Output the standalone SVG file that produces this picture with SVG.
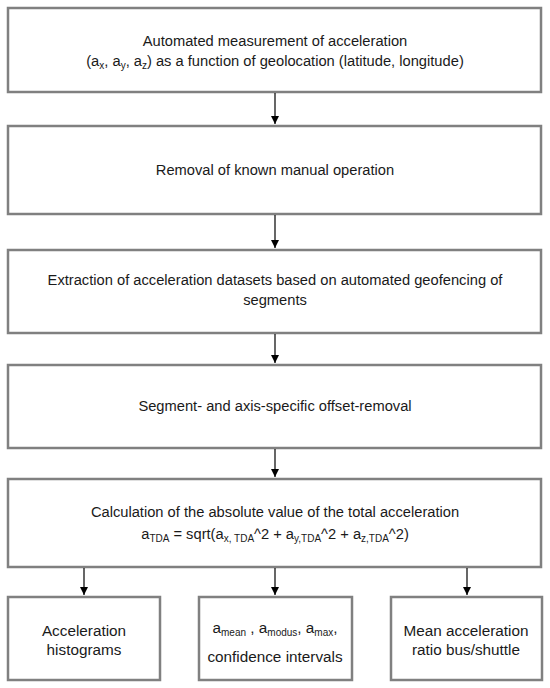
<svg xmlns="http://www.w3.org/2000/svg" width="550" height="688" viewBox="0 0 550 688">
<defs>
<marker id="ah" markerWidth="8" markerHeight="8" refX="8" refY="4" orient="auto" markerUnits="userSpaceOnUse" viewBox="0 0 8 8">
<path d="M0,0 L8,4 L0,8 Z" fill="#000"/>
</marker>
<style>
.box{fill:#fff;stroke:#808080;stroke-width:2.5}
.t{font-family:"Liberation Sans",Arial,sans-serif;font-size:14.7px;fill:#1a1a1a;text-anchor:middle}
.b{font-size:15.3px}
.s{font-size:10px}
.c{stroke:#000;stroke-width:1.2;fill:none}
</style>
</defs>
<rect width="550" height="688" fill="#fff"/>
<g id="n1"><rect class="box" x="8" y="8" width="533" height="84"/>
<text class="t" x="275" y="46">Automated measurement of acceleration</text>
<text class="t" x="275" y="66">(a<tspan class="s" dy="3">x</tspan><tspan dy="-3">, a</tspan><tspan class="s" dy="3">y</tspan><tspan dy="-3">, a</tspan><tspan class="s" dy="3">z</tspan><tspan dy="-3">) as a function of geolocation (latitude, longitude)</tspan></text></g>
<g id="n2"><rect class="box" x="8" y="126" width="533" height="88"/>
<text class="t" x="275" y="175">Removal of known manual operation</text></g>
<g id="n3"><rect class="box" x="8" y="250" width="533" height="83"/>
<text class="t" x="275" y="285">Extraction of acceleration datasets based on automated geofencing of</text>
<text class="t" x="275" y="305">segments</text></g>
<g id="n4"><rect class="box" x="8" y="365" width="533" height="83"/>
<text class="t" x="275" y="411">Segment- and axis-specific offset-removal</text></g>
<g id="n5"><rect class="box" x="8" y="479" width="533" height="88"/>
<text class="t" x="275" y="517">Calculation of the absolute value of the total acceleration</text>
<text class="t" x="275" y="539">a<tspan class="s" dy="3">TDA</tspan><tspan dy="-3"> = sqrt(a</tspan><tspan class="s" dy="3">x, TDA</tspan><tspan dy="-3">^2 + a</tspan><tspan class="s" dy="3">y,TDA</tspan><tspan dy="-3">^2 + a</tspan><tspan class="s" dy="3">z,TDA</tspan><tspan dy="-3">^2)</tspan></text></g>
<g id="n6"><rect class="box" x="8" y="597" width="152" height="83"/>
<text class="t b" x="84" y="636">Acceleration</text>
<text class="t b" x="84" y="655">histograms</text></g>
<g id="n7"><rect class="box" x="199" y="597" width="153" height="83"/>
<text class="t b" x="275" y="633">a<tspan class="s" dy="3">mean</tspan><tspan dy="-3"> , a</tspan><tspan class="s" dy="3">modus</tspan><tspan dy="-3">, a</tspan><tspan class="s" dy="3">max</tspan><tspan dy="-3">,</tspan></text>
<text class="t b" x="275" y="662">confidence intervals</text></g>
<g id="n8"><rect class="box" x="391" y="597" width="151" height="83"/>
<text class="t b" x="466" y="636">Mean acceleration</text>
<text class="t b" x="466" y="655">ratio bus/shuttle</text></g>
<g id="connectors">
<path class="c" d="M275,93 V124" marker-end="url(#ah)"/>
<path class="c" d="M275,215 V248" marker-end="url(#ah)"/>
<path class="c" d="M275,334 V363" marker-end="url(#ah)"/>
<path class="c" d="M275,449 V477" marker-end="url(#ah)"/>
<path class="c" d="M84,568 V595" marker-end="url(#ah)"/>
<path class="c" d="M275,568 V595" marker-end="url(#ah)"/>
<path class="c" d="M467,568 V595" marker-end="url(#ah)"/>
</g>
</svg>
